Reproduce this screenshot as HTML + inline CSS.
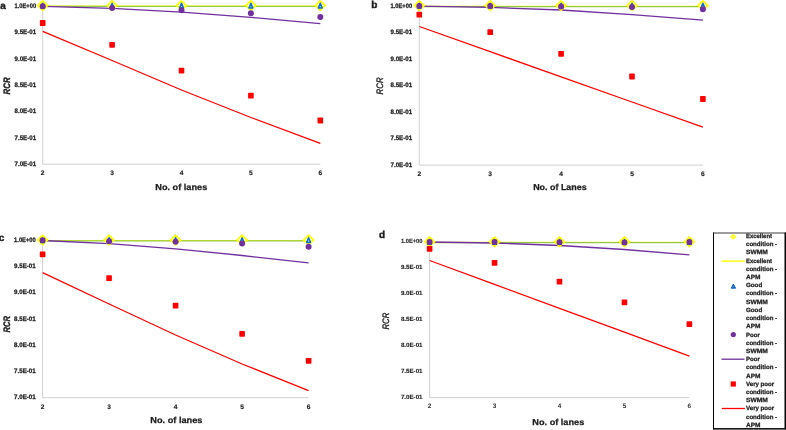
<!DOCTYPE html>
<html><head><meta charset="utf-8"><style>
html,body{margin:0;padding:0;background:#fff;}
body{width:786px;height:430px;overflow:hidden;position:relative;font-family:"Liberation Sans", sans-serif;}
svg{position:absolute;left:0;top:0;will-change:transform;} text{text-rendering:geometricPrecision;}
</style></head><body>
<svg width="786" height="430" viewBox="0 0 786 430" font-family='"Liberation Sans", sans-serif'>
<line x1="42.70" y1="5.90" x2="42.70" y2="164.20" stroke="#d0d0d0" stroke-width="1"/>
<line x1="42.70" y1="164.20" x2="320.30" y2="164.20" stroke="#d0d0d0" stroke-width="1"/>
<line x1="42.70" y1="6.00" x2="320.30" y2="6.00" stroke="#ffff00" stroke-width="1.0"/>
<line x1="42.70" y1="6.35" x2="320.30" y2="6.35" stroke="#96c846" stroke-width="1.1"/>
<polyline points="42.70,6.30 112.10,8.30 181.50,12.20 250.90,17.30 320.30,23.70" fill="none" stroke="#7030a0" stroke-width="1.3"/>
<polyline points="42.70,31.40 112.10,60.50 181.50,90.00 250.90,117.50 320.30,143.40" fill="none" stroke="#ff0000" stroke-width="1.3"/>
<path d="M42.70,0.80 L47.50,5.50 L42.70,10.20 L37.90,5.50Z" fill="#fff" stroke="#ffff00" stroke-width="1.8"/>
<path d="M42.70,3.20 L44.60,7.90 L40.80,7.90Z" fill="#b5d5f2" stroke="#0a6fd0" stroke-width="1.5" stroke-linejoin="round"/>
<path d="M112.10,0.80 L116.90,5.50 L112.10,10.20 L107.30,5.50Z" fill="#fff" stroke="#ffff00" stroke-width="1.8"/>
<path d="M112.10,3.20 L114.00,7.90 L110.20,7.90Z" fill="#b5d5f2" stroke="#0a6fd0" stroke-width="1.5" stroke-linejoin="round"/>
<path d="M181.50,0.80 L186.30,5.50 L181.50,10.20 L176.70,5.50Z" fill="#fff" stroke="#ffff00" stroke-width="1.8"/>
<path d="M181.50,3.20 L183.40,7.90 L179.60,7.90Z" fill="#b5d5f2" stroke="#0a6fd0" stroke-width="1.5" stroke-linejoin="round"/>
<path d="M250.90,0.80 L255.70,5.50 L250.90,10.20 L246.10,5.50Z" fill="#fff" stroke="#ffff00" stroke-width="1.8"/>
<path d="M250.90,3.20 L252.80,7.90 L249.00,7.90Z" fill="#b5d5f2" stroke="#0a6fd0" stroke-width="1.5" stroke-linejoin="round"/>
<path d="M320.30,0.80 L325.10,5.50 L320.30,10.20 L315.50,5.50Z" fill="#fff" stroke="#ffff00" stroke-width="1.8"/>
<path d="M320.30,3.20 L322.20,7.90 L318.40,7.90Z" fill="#b5d5f2" stroke="#0a6fd0" stroke-width="1.5" stroke-linejoin="round"/>
<circle cx="42.70" cy="6.30" r="3.0" fill="#7030a0"/>
<circle cx="112.10" cy="8.00" r="3.0" fill="#7030a0"/>
<circle cx="181.50" cy="10.30" r="3.0" fill="#7030a0"/>
<circle cx="250.90" cy="13.20" r="3.0" fill="#7030a0"/>
<circle cx="320.30" cy="16.90" r="3.0" fill="#7030a0"/>
<rect x="39.90" y="20.10" width="5.6" height="5.8" rx="0.7" fill="#ff0000"/>
<rect x="109.30" y="42.00" width="5.6" height="5.8" rx="0.7" fill="#ff0000"/>
<rect x="178.70" y="67.70" width="5.6" height="5.8" rx="0.7" fill="#ff0000"/>
<rect x="248.10" y="92.80" width="5.6" height="5.8" rx="0.7" fill="#ff0000"/>
<rect x="317.50" y="117.60" width="5.6" height="5.8" rx="0.7" fill="#ff0000"/>
<line x1="419.30" y1="5.70" x2="419.30" y2="165.10" stroke="#d0d0d0" stroke-width="1"/>
<line x1="419.30" y1="165.10" x2="702.90" y2="165.10" stroke="#d0d0d0" stroke-width="1"/>
<line x1="419.30" y1="6.25" x2="702.90" y2="6.25" stroke="#ffff00" stroke-width="1.0"/>
<line x1="419.30" y1="6.60" x2="702.90" y2="6.60" stroke="#96c846" stroke-width="1.1"/>
<polyline points="419.30,6.10 490.20,7.40 561.10,10.00 632.00,14.60 702.90,20.20" fill="none" stroke="#7030a0" stroke-width="1.3"/>
<polyline points="419.30,26.50 490.20,51.70 561.10,76.90 632.00,102.00 702.90,127.20" fill="none" stroke="#ff0000" stroke-width="1.3"/>
<path d="M419.30,0.90 L424.10,5.60 L419.30,10.30 L414.50,5.60Z" fill="#fff" stroke="#ffff00" stroke-width="1.8"/>
<path d="M419.30,3.30 L421.20,8.00 L417.40,8.00Z" fill="#b5d5f2" stroke="#0a6fd0" stroke-width="1.5" stroke-linejoin="round"/>
<path d="M490.20,0.90 L495.00,5.60 L490.20,10.30 L485.40,5.60Z" fill="#fff" stroke="#ffff00" stroke-width="1.8"/>
<path d="M490.20,3.30 L492.10,8.00 L488.30,8.00Z" fill="#b5d5f2" stroke="#0a6fd0" stroke-width="1.5" stroke-linejoin="round"/>
<path d="M561.10,0.90 L565.90,5.60 L561.10,10.30 L556.30,5.60Z" fill="#fff" stroke="#ffff00" stroke-width="1.8"/>
<path d="M561.10,3.30 L563.00,8.00 L559.20,8.00Z" fill="#b5d5f2" stroke="#0a6fd0" stroke-width="1.5" stroke-linejoin="round"/>
<path d="M632.00,0.90 L636.80,5.60 L632.00,10.30 L627.20,5.60Z" fill="#fff" stroke="#ffff00" stroke-width="1.8"/>
<path d="M632.00,3.30 L633.90,8.00 L630.10,8.00Z" fill="#b5d5f2" stroke="#0a6fd0" stroke-width="1.5" stroke-linejoin="round"/>
<path d="M702.90,0.90 L707.70,5.60 L702.90,10.30 L698.10,5.60Z" fill="#fff" stroke="#ffff00" stroke-width="1.8"/>
<path d="M702.90,3.30 L704.80,8.00 L701.00,8.00Z" fill="#b5d5f2" stroke="#0a6fd0" stroke-width="1.5" stroke-linejoin="round"/>
<circle cx="419.30" cy="5.90" r="3.0" fill="#7030a0"/>
<circle cx="490.20" cy="5.90" r="3.0" fill="#7030a0"/>
<circle cx="561.10" cy="6.40" r="3.0" fill="#7030a0"/>
<circle cx="632.00" cy="6.90" r="3.0" fill="#7030a0"/>
<circle cx="702.90" cy="9.20" r="3.0" fill="#7030a0"/>
<rect x="416.50" y="11.80" width="5.6" height="5.8" rx="0.7" fill="#ff0000"/>
<rect x="487.40" y="29.30" width="5.6" height="5.8" rx="0.7" fill="#ff0000"/>
<rect x="558.30" y="50.90" width="5.6" height="5.8" rx="0.7" fill="#ff0000"/>
<rect x="629.20" y="73.60" width="5.6" height="5.8" rx="0.7" fill="#ff0000"/>
<rect x="700.10" y="96.10" width="5.6" height="5.8" rx="0.7" fill="#ff0000"/>
<line x1="42.60" y1="240.30" x2="42.60" y2="397.70" stroke="#d0d0d0" stroke-width="1"/>
<line x1="42.60" y1="397.70" x2="308.60" y2="397.70" stroke="#d0d0d0" stroke-width="1"/>
<line x1="42.60" y1="240.50" x2="308.60" y2="240.50" stroke="#ffff00" stroke-width="1.0"/>
<line x1="42.60" y1="240.85" x2="308.60" y2="240.85" stroke="#96c846" stroke-width="1.1"/>
<polyline points="42.60,240.50 109.10,243.60 175.60,248.80 242.10,255.50 308.60,262.90" fill="none" stroke="#7030a0" stroke-width="1.3"/>
<polyline points="42.60,272.70 109.10,304.00 175.60,335.00 242.10,364.00 308.60,390.60" fill="none" stroke="#ff0000" stroke-width="1.3"/>
<path d="M42.60,235.30 L47.40,240.00 L42.60,244.70 L37.80,240.00Z" fill="#fff" stroke="#ffff00" stroke-width="1.8"/>
<path d="M42.60,237.70 L44.50,242.40 L40.70,242.40Z" fill="#b5d5f2" stroke="#0a6fd0" stroke-width="1.5" stroke-linejoin="round"/>
<path d="M109.10,235.30 L113.90,240.00 L109.10,244.70 L104.30,240.00Z" fill="#fff" stroke="#ffff00" stroke-width="1.8"/>
<path d="M109.10,237.70 L111.00,242.40 L107.20,242.40Z" fill="#b5d5f2" stroke="#0a6fd0" stroke-width="1.5" stroke-linejoin="round"/>
<path d="M175.60,235.30 L180.40,240.00 L175.60,244.70 L170.80,240.00Z" fill="#fff" stroke="#ffff00" stroke-width="1.8"/>
<path d="M175.60,237.70 L177.50,242.40 L173.70,242.40Z" fill="#b5d5f2" stroke="#0a6fd0" stroke-width="1.5" stroke-linejoin="round"/>
<path d="M242.10,235.30 L246.90,240.00 L242.10,244.70 L237.30,240.00Z" fill="#fff" stroke="#ffff00" stroke-width="1.8"/>
<path d="M242.10,237.70 L244.00,242.40 L240.20,242.40Z" fill="#b5d5f2" stroke="#0a6fd0" stroke-width="1.5" stroke-linejoin="round"/>
<path d="M308.60,235.30 L313.40,240.00 L308.60,244.70 L303.80,240.00Z" fill="#fff" stroke="#ffff00" stroke-width="1.8"/>
<path d="M308.60,237.70 L310.50,242.40 L306.70,242.40Z" fill="#b5d5f2" stroke="#0a6fd0" stroke-width="1.5" stroke-linejoin="round"/>
<circle cx="42.60" cy="240.30" r="3.0" fill="#7030a0"/>
<circle cx="109.10" cy="241.20" r="3.0" fill="#7030a0"/>
<circle cx="175.60" cy="241.80" r="3.0" fill="#7030a0"/>
<circle cx="242.10" cy="243.60" r="3.0" fill="#7030a0"/>
<circle cx="308.60" cy="246.70" r="3.0" fill="#7030a0"/>
<rect x="39.80" y="251.40" width="5.6" height="5.8" rx="0.7" fill="#ff0000"/>
<rect x="106.30" y="275.30" width="5.6" height="5.8" rx="0.7" fill="#ff0000"/>
<rect x="172.80" y="302.70" width="5.6" height="5.8" rx="0.7" fill="#ff0000"/>
<rect x="239.30" y="331.00" width="5.6" height="5.8" rx="0.7" fill="#ff0000"/>
<rect x="305.80" y="357.90" width="5.6" height="5.8" rx="0.7" fill="#ff0000"/>
<line x1="429.60" y1="241.80" x2="429.60" y2="397.60" stroke="#d0d0d0" stroke-width="1"/>
<line x1="429.60" y1="397.60" x2="689.40" y2="397.60" stroke="#d0d0d0" stroke-width="1"/>
<line x1="429.60" y1="242.30" x2="689.40" y2="242.30" stroke="#ffff00" stroke-width="1.0"/>
<line x1="429.60" y1="242.65" x2="689.40" y2="242.65" stroke="#96c846" stroke-width="1.1"/>
<polyline points="429.60,242.00 494.55,243.00 559.50,245.50 624.45,249.50 689.40,254.80" fill="none" stroke="#7030a0" stroke-width="1.3"/>
<polyline points="429.60,260.50 494.55,284.40 559.50,308.30 624.45,332.20 689.40,356.10" fill="none" stroke="#ff0000" stroke-width="1.3"/>
<path d="M429.60,237.10 L434.40,241.80 L429.60,246.50 L424.80,241.80Z" fill="#fff" stroke="#ffff00" stroke-width="1.8"/>
<path d="M429.60,239.50 L431.50,244.20 L427.70,244.20Z" fill="#b5d5f2" stroke="#0a6fd0" stroke-width="1.5" stroke-linejoin="round"/>
<path d="M494.55,237.10 L499.35,241.80 L494.55,246.50 L489.75,241.80Z" fill="#fff" stroke="#ffff00" stroke-width="1.8"/>
<path d="M494.55,239.50 L496.45,244.20 L492.65,244.20Z" fill="#b5d5f2" stroke="#0a6fd0" stroke-width="1.5" stroke-linejoin="round"/>
<path d="M559.50,237.10 L564.30,241.80 L559.50,246.50 L554.70,241.80Z" fill="#fff" stroke="#ffff00" stroke-width="1.8"/>
<path d="M559.50,239.50 L561.40,244.20 L557.60,244.20Z" fill="#b5d5f2" stroke="#0a6fd0" stroke-width="1.5" stroke-linejoin="round"/>
<path d="M624.45,237.10 L629.25,241.80 L624.45,246.50 L619.65,241.80Z" fill="#fff" stroke="#ffff00" stroke-width="1.8"/>
<path d="M624.45,239.50 L626.35,244.20 L622.55,244.20Z" fill="#b5d5f2" stroke="#0a6fd0" stroke-width="1.5" stroke-linejoin="round"/>
<path d="M689.40,237.10 L694.20,241.80 L689.40,246.50 L684.60,241.80Z" fill="#fff" stroke="#ffff00" stroke-width="1.8"/>
<path d="M689.40,239.50 L691.30,244.20 L687.50,244.20Z" fill="#b5d5f2" stroke="#0a6fd0" stroke-width="1.5" stroke-linejoin="round"/>
<circle cx="429.60" cy="241.90" r="3.0" fill="#7030a0"/>
<circle cx="494.55" cy="242.00" r="3.0" fill="#7030a0"/>
<circle cx="559.50" cy="242.20" r="3.0" fill="#7030a0"/>
<circle cx="624.45" cy="242.60" r="3.0" fill="#7030a0"/>
<circle cx="689.40" cy="241.90" r="3.0" fill="#7030a0"/>
<rect x="426.80" y="246.00" width="5.6" height="5.8" rx="0.7" fill="#ff0000"/>
<rect x="491.75" y="259.90" width="5.6" height="5.8" rx="0.7" fill="#ff0000"/>
<rect x="556.70" y="278.80" width="5.6" height="5.8" rx="0.7" fill="#ff0000"/>
<rect x="621.65" y="299.40" width="5.6" height="5.8" rx="0.7" fill="#ff0000"/>
<rect x="686.60" y="321.30" width="5.6" height="5.8" rx="0.7" fill="#ff0000"/>
<text x="36.10" y="7.80" font-size="6.6" font-weight="bold" font-style="normal" text-anchor="end" fill="#1c1c1c" textLength="21.60" lengthAdjust="spacingAndGlyphs" stroke="#1c1c1c" stroke-width="0.25">1.0E+00</text>
<text x="36.10" y="34.15" font-size="6.6" font-weight="bold" font-style="normal" text-anchor="end" fill="#1c1c1c" textLength="21.60" lengthAdjust="spacingAndGlyphs" stroke="#1c1c1c" stroke-width="0.25">9.5E-01</text>
<text x="36.10" y="60.50" font-size="6.6" font-weight="bold" font-style="normal" text-anchor="end" fill="#1c1c1c" textLength="21.60" lengthAdjust="spacingAndGlyphs" stroke="#1c1c1c" stroke-width="0.25">9.0E-01</text>
<text x="36.10" y="86.85" font-size="6.6" font-weight="bold" font-style="normal" text-anchor="end" fill="#1c1c1c" textLength="21.60" lengthAdjust="spacingAndGlyphs" stroke="#1c1c1c" stroke-width="0.25">8.5E-01</text>
<text x="36.10" y="113.20" font-size="6.6" font-weight="bold" font-style="normal" text-anchor="end" fill="#1c1c1c" textLength="21.60" lengthAdjust="spacingAndGlyphs" stroke="#1c1c1c" stroke-width="0.25">8.0E-01</text>
<text x="36.10" y="139.55" font-size="6.6" font-weight="bold" font-style="normal" text-anchor="end" fill="#1c1c1c" textLength="21.60" lengthAdjust="spacingAndGlyphs" stroke="#1c1c1c" stroke-width="0.25">7.5E-01</text>
<text x="36.10" y="165.90" font-size="6.6" font-weight="bold" font-style="normal" text-anchor="end" fill="#1c1c1c" textLength="21.60" lengthAdjust="spacingAndGlyphs" stroke="#1c1c1c" stroke-width="0.25">7.0E-01</text>
<text x="412.10" y="8.00" font-size="6.4" font-weight="bold" font-style="normal" text-anchor="end" fill="#1c1c1c" textLength="21.60" lengthAdjust="spacingAndGlyphs" stroke="#1c1c1c" stroke-width="0.25">1.0E+00</text>
<text x="412.10" y="34.47" font-size="6.4" font-weight="bold" font-style="normal" text-anchor="end" fill="#1c1c1c" textLength="21.60" lengthAdjust="spacingAndGlyphs" stroke="#1c1c1c" stroke-width="0.25">9.5E-01</text>
<text x="412.10" y="60.95" font-size="6.4" font-weight="bold" font-style="normal" text-anchor="end" fill="#1c1c1c" textLength="21.60" lengthAdjust="spacingAndGlyphs" stroke="#1c1c1c" stroke-width="0.25">9.0E-01</text>
<text x="412.10" y="87.42" font-size="6.4" font-weight="bold" font-style="normal" text-anchor="end" fill="#1c1c1c" textLength="21.60" lengthAdjust="spacingAndGlyphs" stroke="#1c1c1c" stroke-width="0.25">8.5E-01</text>
<text x="412.10" y="113.90" font-size="6.4" font-weight="bold" font-style="normal" text-anchor="end" fill="#1c1c1c" textLength="21.60" lengthAdjust="spacingAndGlyphs" stroke="#1c1c1c" stroke-width="0.25">8.0E-01</text>
<text x="412.10" y="140.38" font-size="6.4" font-weight="bold" font-style="normal" text-anchor="end" fill="#1c1c1c" textLength="21.60" lengthAdjust="spacingAndGlyphs" stroke="#1c1c1c" stroke-width="0.25">7.5E-01</text>
<text x="412.10" y="166.85" font-size="6.4" font-weight="bold" font-style="normal" text-anchor="end" fill="#1c1c1c" textLength="21.60" lengthAdjust="spacingAndGlyphs" stroke="#1c1c1c" stroke-width="0.25">7.0E-01</text>
<text x="35.70" y="241.75" font-size="6.4" font-weight="bold" font-style="normal" text-anchor="end" fill="#1c1c1c" textLength="21.60" lengthAdjust="spacingAndGlyphs" stroke="#1c1c1c" stroke-width="0.25">1.0E+00</text>
<text x="35.70" y="268.00" font-size="6.4" font-weight="bold" font-style="normal" text-anchor="end" fill="#1c1c1c" textLength="21.60" lengthAdjust="spacingAndGlyphs" stroke="#1c1c1c" stroke-width="0.25">9.5E-01</text>
<text x="35.70" y="294.25" font-size="6.4" font-weight="bold" font-style="normal" text-anchor="end" fill="#1c1c1c" textLength="21.60" lengthAdjust="spacingAndGlyphs" stroke="#1c1c1c" stroke-width="0.25">9.0E-01</text>
<text x="35.70" y="320.50" font-size="6.4" font-weight="bold" font-style="normal" text-anchor="end" fill="#1c1c1c" textLength="21.60" lengthAdjust="spacingAndGlyphs" stroke="#1c1c1c" stroke-width="0.25">8.5E-01</text>
<text x="35.70" y="346.75" font-size="6.4" font-weight="bold" font-style="normal" text-anchor="end" fill="#1c1c1c" textLength="21.60" lengthAdjust="spacingAndGlyphs" stroke="#1c1c1c" stroke-width="0.25">8.0E-01</text>
<text x="35.70" y="373.00" font-size="6.4" font-weight="bold" font-style="normal" text-anchor="end" fill="#1c1c1c" textLength="21.60" lengthAdjust="spacingAndGlyphs" stroke="#1c1c1c" stroke-width="0.25">7.5E-01</text>
<text x="35.70" y="399.25" font-size="6.4" font-weight="bold" font-style="normal" text-anchor="end" fill="#1c1c1c" textLength="21.60" lengthAdjust="spacingAndGlyphs" stroke="#1c1c1c" stroke-width="0.25">7.0E-01</text>
<text x="422.50" y="243.45" font-size="6.1" font-weight="bold" font-style="normal" text-anchor="end" fill="#1c1c1c" textLength="21.60" lengthAdjust="spacingAndGlyphs" stroke="#1c1c1c" stroke-width="0.12">1.0E+00</text>
<text x="422.50" y="269.37" font-size="6.1" font-weight="bold" font-style="normal" text-anchor="end" fill="#1c1c1c" textLength="21.60" lengthAdjust="spacingAndGlyphs" stroke="#1c1c1c" stroke-width="0.12">9.5E-01</text>
<text x="422.50" y="295.28" font-size="6.1" font-weight="bold" font-style="normal" text-anchor="end" fill="#1c1c1c" textLength="21.60" lengthAdjust="spacingAndGlyphs" stroke="#1c1c1c" stroke-width="0.12">9.0E-01</text>
<text x="422.50" y="321.20" font-size="6.1" font-weight="bold" font-style="normal" text-anchor="end" fill="#1c1c1c" textLength="21.60" lengthAdjust="spacingAndGlyphs" stroke="#1c1c1c" stroke-width="0.12">8.5E-01</text>
<text x="422.50" y="347.12" font-size="6.1" font-weight="bold" font-style="normal" text-anchor="end" fill="#1c1c1c" textLength="21.60" lengthAdjust="spacingAndGlyphs" stroke="#1c1c1c" stroke-width="0.12">8.0E-01</text>
<text x="422.50" y="373.03" font-size="6.1" font-weight="bold" font-style="normal" text-anchor="end" fill="#1c1c1c" textLength="21.60" lengthAdjust="spacingAndGlyphs" stroke="#1c1c1c" stroke-width="0.12">7.5E-01</text>
<text x="422.50" y="398.95" font-size="6.1" font-weight="bold" font-style="normal" text-anchor="end" fill="#1c1c1c" textLength="21.60" lengthAdjust="spacingAndGlyphs" stroke="#1c1c1c" stroke-width="0.12">7.0E-01</text>
<text x="42.70" y="174.90" font-size="6.6" font-weight="bold" font-style="normal" text-anchor="middle" fill="#1c1c1c" stroke="#1c1c1c" stroke-width="0.15">2</text>
<text x="112.10" y="174.90" font-size="6.6" font-weight="bold" font-style="normal" text-anchor="middle" fill="#1c1c1c" stroke="#1c1c1c" stroke-width="0.15">3</text>
<text x="181.50" y="174.90" font-size="6.6" font-weight="bold" font-style="normal" text-anchor="middle" fill="#1c1c1c" stroke="#1c1c1c" stroke-width="0.15">4</text>
<text x="250.90" y="174.90" font-size="6.6" font-weight="bold" font-style="normal" text-anchor="middle" fill="#1c1c1c" stroke="#1c1c1c" stroke-width="0.15">5</text>
<text x="320.30" y="174.90" font-size="6.6" font-weight="bold" font-style="normal" text-anchor="middle" fill="#1c1c1c" stroke="#1c1c1c" stroke-width="0.15">6</text>
<text x="419.30" y="176.20" font-size="6.6" font-weight="bold" font-style="normal" text-anchor="middle" fill="#1c1c1c" stroke="#1c1c1c" stroke-width="0.15">2</text>
<text x="490.20" y="176.20" font-size="6.6" font-weight="bold" font-style="normal" text-anchor="middle" fill="#1c1c1c" stroke="#1c1c1c" stroke-width="0.15">3</text>
<text x="561.10" y="176.20" font-size="6.6" font-weight="bold" font-style="normal" text-anchor="middle" fill="#1c1c1c" stroke="#1c1c1c" stroke-width="0.15">4</text>
<text x="632.00" y="176.20" font-size="6.6" font-weight="bold" font-style="normal" text-anchor="middle" fill="#1c1c1c" stroke="#1c1c1c" stroke-width="0.15">5</text>
<text x="702.90" y="176.20" font-size="6.6" font-weight="bold" font-style="normal" text-anchor="middle" fill="#1c1c1c" stroke="#1c1c1c" stroke-width="0.15">6</text>
<text x="42.60" y="408.50" font-size="6.6" font-weight="bold" font-style="normal" text-anchor="middle" fill="#1c1c1c" stroke="#1c1c1c" stroke-width="0.15">2</text>
<text x="109.10" y="408.50" font-size="6.6" font-weight="bold" font-style="normal" text-anchor="middle" fill="#1c1c1c" stroke="#1c1c1c" stroke-width="0.15">3</text>
<text x="175.60" y="408.50" font-size="6.6" font-weight="bold" font-style="normal" text-anchor="middle" fill="#1c1c1c" stroke="#1c1c1c" stroke-width="0.15">4</text>
<text x="242.10" y="408.50" font-size="6.6" font-weight="bold" font-style="normal" text-anchor="middle" fill="#1c1c1c" stroke="#1c1c1c" stroke-width="0.15">5</text>
<text x="308.60" y="408.50" font-size="6.6" font-weight="bold" font-style="normal" text-anchor="middle" fill="#1c1c1c" stroke="#1c1c1c" stroke-width="0.15">6</text>
<text x="429.60" y="408.00" font-size="6.4" font-weight="bold" font-style="normal" text-anchor="middle" fill="#333">2</text>
<text x="494.55" y="408.00" font-size="6.4" font-weight="bold" font-style="normal" text-anchor="middle" fill="#333">3</text>
<text x="559.50" y="408.00" font-size="6.4" font-weight="bold" font-style="normal" text-anchor="middle" fill="#333">4</text>
<text x="624.45" y="408.00" font-size="6.4" font-weight="bold" font-style="normal" text-anchor="middle" fill="#333">5</text>
<text x="689.40" y="408.00" font-size="6.4" font-weight="bold" font-style="normal" text-anchor="middle" fill="#333">6</text>
<text x="0.30" y="8.70" font-size="10" font-weight="bold" font-style="normal" text-anchor="start" fill="#1c1c1c" stroke="#1c1c1c" stroke-width="0.4">a</text>
<text x="371.30" y="8.00" font-size="10" font-weight="bold" font-style="normal" text-anchor="start" fill="#1c1c1c" stroke="#1c1c1c" stroke-width="0.4">b</text>
<text x="-1.20" y="241.10" font-size="10" font-weight="bold" font-style="normal" text-anchor="start" fill="#1c1c1c" stroke="#1c1c1c" stroke-width="0.4">c</text>
<text x="379.00" y="237.90" font-size="10" font-weight="bold" font-style="normal" text-anchor="start" fill="#1c1c1c" stroke="#1c1c1c" stroke-width="0.4">d</text>
<text x="155.30" y="190.00" font-size="8.6" font-weight="bold" font-style="normal" text-anchor="start" fill="#1c1c1c" textLength="51.95" lengthAdjust="spacingAndGlyphs" stroke="#1c1c1c" stroke-width="0.25">No. of lanes</text>
<text x="533.20" y="190.40" font-size="8.6" font-weight="bold" font-style="normal" text-anchor="start" fill="#1c1c1c" textLength="53.50" lengthAdjust="spacingAndGlyphs" stroke="#1c1c1c" stroke-width="0.25">No. of Lanes</text>
<text x="150.35" y="423.20" font-size="8.6" font-weight="bold" font-style="normal" text-anchor="start" fill="#1c1c1c" textLength="52.10" lengthAdjust="spacingAndGlyphs" stroke="#1c1c1c" stroke-width="0.25">No. of lanes</text>
<text x="532.35" y="424.60" font-size="8.6" font-weight="bold" font-style="normal" text-anchor="start" fill="#1c1c1c" textLength="51.90" lengthAdjust="spacingAndGlyphs" stroke="#1c1c1c" stroke-width="0.25">No. of lanes</text>
<text transform="translate(6.40,85.90) rotate(-90)" x="0" y="3.3" font-size="9.4" font-weight="bold" font-style="italic" text-anchor="middle" fill="#1c1c1c" stroke="#1c1c1c" stroke-width="0.4" textLength="17" lengthAdjust="spacingAndGlyphs">RCR</text>
<text transform="translate(379.50,85.90) rotate(-90)" x="0" y="3.3" font-size="9.4" font-weight="normal" font-style="italic" text-anchor="middle" fill="#1c1c1c" stroke="#1c1c1c" stroke-width="0.35" textLength="17" lengthAdjust="spacingAndGlyphs">RCR</text>
<text transform="translate(6.70,324.30) rotate(-90)" x="0" y="3.3" font-size="9.4" font-weight="bold" font-style="italic" text-anchor="middle" fill="#1c1c1c" stroke="#1c1c1c" stroke-width="0.4" textLength="16.4" lengthAdjust="spacingAndGlyphs">RCR</text>
<text transform="translate(385.90,321.10) rotate(-90)" x="0" y="3.3" font-size="9.4" font-weight="normal" font-style="italic" text-anchor="middle" fill="#1c1c1c" stroke="#1c1c1c" stroke-width="0.35" textLength="16.8" lengthAdjust="spacingAndGlyphs">RCR</text>
<rect x="713.5" y="233.0" width="71.7" height="195.7" fill="#fff" stroke="#3a3a3a" stroke-width="1"/>
<line x1="785.3" y1="232.5" x2="785.3" y2="429.3" stroke="#000" stroke-width="1.3"/>
<line x1="713" y1="428.9" x2="785.9" y2="428.9" stroke="#000" stroke-width="1.2"/>
<line x1="713.5" y1="232.5" x2="713.5" y2="429.3" stroke="#000" stroke-width="1"/>
<text x="746.00" y="238.00" font-size="6.1" font-weight="bold" font-style="normal" text-anchor="start" fill="#1c1c1c" textLength="26.00" lengthAdjust="spacingAndGlyphs" stroke="#1c1c1c" stroke-width="0.25">Excellent</text>
<text x="746.00" y="246.21" font-size="6.1" font-weight="bold" font-style="normal" text-anchor="start" fill="#1c1c1c" textLength="31.10" lengthAdjust="spacingAndGlyphs" stroke="#1c1c1c" stroke-width="0.25">condition -</text>
<text x="746.00" y="254.42" font-size="6.1" font-weight="bold" font-style="normal" text-anchor="start" fill="#1c1c1c" textLength="21.90" lengthAdjust="spacingAndGlyphs" stroke="#1c1c1c" stroke-width="0.25">SWMM</text>
<text x="746.00" y="262.63" font-size="6.1" font-weight="bold" font-style="normal" text-anchor="start" fill="#1c1c1c" textLength="26.00" lengthAdjust="spacingAndGlyphs" stroke="#1c1c1c" stroke-width="0.25">Excellent</text>
<text x="746.00" y="270.84" font-size="6.1" font-weight="bold" font-style="normal" text-anchor="start" fill="#1c1c1c" textLength="31.10" lengthAdjust="spacingAndGlyphs" stroke="#1c1c1c" stroke-width="0.25">condition -</text>
<text x="746.00" y="279.05" font-size="6.1" font-weight="bold" font-style="normal" text-anchor="start" fill="#1c1c1c" textLength="14.50" lengthAdjust="spacingAndGlyphs" stroke="#1c1c1c" stroke-width="0.25">APM</text>
<text x="746.00" y="287.26" font-size="6.1" font-weight="bold" font-style="normal" text-anchor="start" fill="#1c1c1c" textLength="16.20" lengthAdjust="spacingAndGlyphs" stroke="#1c1c1c" stroke-width="0.25">Good</text>
<text x="746.00" y="295.47" font-size="6.1" font-weight="bold" font-style="normal" text-anchor="start" fill="#1c1c1c" textLength="31.10" lengthAdjust="spacingAndGlyphs" stroke="#1c1c1c" stroke-width="0.25">condition -</text>
<text x="746.00" y="303.68" font-size="6.1" font-weight="bold" font-style="normal" text-anchor="start" fill="#1c1c1c" textLength="21.90" lengthAdjust="spacingAndGlyphs" stroke="#1c1c1c" stroke-width="0.25">SWMM</text>
<text x="746.00" y="311.89" font-size="6.1" font-weight="bold" font-style="normal" text-anchor="start" fill="#1c1c1c" textLength="16.20" lengthAdjust="spacingAndGlyphs" stroke="#1c1c1c" stroke-width="0.25">Good</text>
<text x="746.00" y="320.10" font-size="6.1" font-weight="bold" font-style="normal" text-anchor="start" fill="#1c1c1c" textLength="31.10" lengthAdjust="spacingAndGlyphs" stroke="#1c1c1c" stroke-width="0.25">condition -</text>
<text x="746.00" y="328.31" font-size="6.1" font-weight="bold" font-style="normal" text-anchor="start" fill="#1c1c1c" textLength="14.50" lengthAdjust="spacingAndGlyphs" stroke="#1c1c1c" stroke-width="0.25">APM</text>
<text x="746.00" y="336.52" font-size="6.1" font-weight="bold" font-style="normal" text-anchor="start" fill="#1c1c1c" textLength="13.90" lengthAdjust="spacingAndGlyphs" stroke="#1c1c1c" stroke-width="0.25">Poor</text>
<text x="746.00" y="344.73" font-size="6.1" font-weight="bold" font-style="normal" text-anchor="start" fill="#1c1c1c" textLength="31.10" lengthAdjust="spacingAndGlyphs" stroke="#1c1c1c" stroke-width="0.25">condition -</text>
<text x="746.00" y="352.94" font-size="6.1" font-weight="bold" font-style="normal" text-anchor="start" fill="#1c1c1c" textLength="21.90" lengthAdjust="spacingAndGlyphs" stroke="#1c1c1c" stroke-width="0.25">SWMM</text>
<text x="746.00" y="361.15" font-size="6.1" font-weight="bold" font-style="normal" text-anchor="start" fill="#1c1c1c" textLength="13.90" lengthAdjust="spacingAndGlyphs" stroke="#1c1c1c" stroke-width="0.25">Poor</text>
<text x="746.00" y="369.36" font-size="6.1" font-weight="bold" font-style="normal" text-anchor="start" fill="#1c1c1c" textLength="31.10" lengthAdjust="spacingAndGlyphs" stroke="#1c1c1c" stroke-width="0.25">condition -</text>
<text x="746.00" y="377.57" font-size="6.1" font-weight="bold" font-style="normal" text-anchor="start" fill="#1c1c1c" textLength="14.50" lengthAdjust="spacingAndGlyphs" stroke="#1c1c1c" stroke-width="0.25">APM</text>
<text x="746.00" y="385.78" font-size="6.1" font-weight="bold" font-style="normal" text-anchor="start" fill="#1c1c1c" textLength="28.20" lengthAdjust="spacingAndGlyphs" stroke="#1c1c1c" stroke-width="0.25">Very poor</text>
<text x="746.00" y="393.99" font-size="6.1" font-weight="bold" font-style="normal" text-anchor="start" fill="#1c1c1c" textLength="31.10" lengthAdjust="spacingAndGlyphs" stroke="#1c1c1c" stroke-width="0.25">condition -</text>
<text x="746.00" y="402.20" font-size="6.1" font-weight="bold" font-style="normal" text-anchor="start" fill="#1c1c1c" textLength="21.90" lengthAdjust="spacingAndGlyphs" stroke="#1c1c1c" stroke-width="0.25">SWMM</text>
<text x="746.00" y="410.41" font-size="6.1" font-weight="bold" font-style="normal" text-anchor="start" fill="#1c1c1c" textLength="28.20" lengthAdjust="spacingAndGlyphs" stroke="#1c1c1c" stroke-width="0.25">Very poor</text>
<text x="746.00" y="418.62" font-size="6.1" font-weight="bold" font-style="normal" text-anchor="start" fill="#1c1c1c" textLength="31.10" lengthAdjust="spacingAndGlyphs" stroke="#1c1c1c" stroke-width="0.25">condition -</text>
<text x="746.00" y="426.83" font-size="6.1" font-weight="bold" font-style="normal" text-anchor="start" fill="#1c1c1c" textLength="14.50" lengthAdjust="spacingAndGlyphs" stroke="#1c1c1c" stroke-width="0.25">APM</text>
<path d="M733.3,234.9 L735.3,236.8 L733.3,238.70000000000002 L731.3,236.8Z" fill="#ffffb0" stroke="#ffff00" stroke-width="1.5" stroke-linejoin="round"/>
<line x1="721.3" y1="261.1" x2="744.9" y2="261.1" stroke="#ffff00" stroke-width="1.4"/>
<path d="M733.4,284.0 L735.5999999999999,288.2 L731.1999999999999,288.2Z" fill="#2a7bd0" stroke="#1166c0" stroke-width="1.0" stroke-linejoin="round"/>
<circle cx="733.3" cy="334.6" r="2.6" fill="#7030a0"/>
<line x1="721.5" y1="359.2" x2="744.5" y2="359.2" stroke="#7030a0" stroke-width="1.3"/>
<rect x="730.6999999999999" y="381.4" width="5.2" height="5.2" fill="#ff0000"/>
<line x1="721.8" y1="408.5" x2="744.9" y2="408.5" stroke="#ff0000" stroke-width="1.3"/>
</svg>
</body></html>
